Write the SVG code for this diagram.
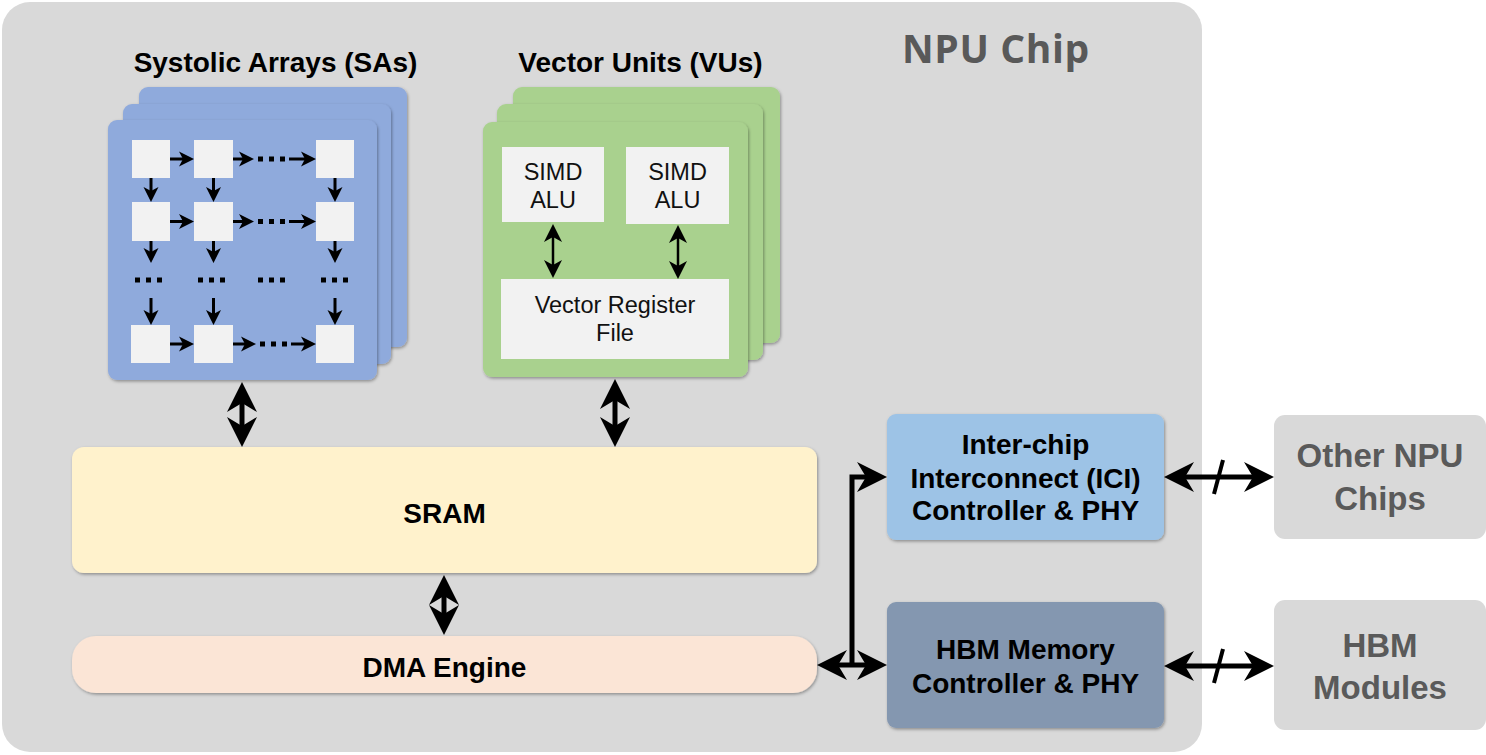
<svg xmlns="http://www.w3.org/2000/svg" width="1486" height="755" viewBox="0 0 1486 755">
<style>
.lbl{font-family:"Liberation Sans",Arial,sans-serif;font-weight:bold;font-size:28px;fill:#000;text-anchor:middle}
.reg{font-family:"Liberation Sans",Arial,sans-serif;font-size:23.5px;fill:#111;text-anchor:middle}
.ext{font-family:"Liberation Sans",Arial,sans-serif;font-weight:bold;font-size:33px;fill:#5a5a5a;text-anchor:middle}
.sa{fill:#8faadc}
.vu{fill:#a9d18e}
.pe{fill:#f2f2f2}
.sh{filter:url(#shadow)}
.a-sm{stroke:#000;stroke-width:3;fill:none;marker-end:url(#sm)}
.a-mid{stroke:#000;stroke-width:2.5;fill:none;marker-start:url(#mid);marker-end:url(#mid)}
.a-big{stroke:#000;stroke-width:5;fill:none}
.dots{stroke:#000;stroke-width:5;stroke-dasharray:5 6}
</style>
<defs>
<filter id="shadow" x="-10%" y="-10%" width="130%" height="130%">
<feDropShadow dx="1" dy="1.5" stdDeviation="1.5" flood-color="#000" flood-opacity="0.35"/>
</filter>
<marker id="sm" markerUnits="userSpaceOnUse" markerWidth="15" markerHeight="15" refX="6" refY="7.5" orient="auto" overflow="visible">
<path d="M0,0 L15,7.5 L0,15 L4,7.5 z" fill="#000"/>
</marker>
<marker id="mid" markerUnits="userSpaceOnUse" markerWidth="18" markerHeight="18" refX="7" refY="9" orient="auto-start-reverse" overflow="visible">
<path d="M0,0 L18,9 L0,18 L5,9 z" fill="#000"/>
</marker>
<marker id="big" markerUnits="userSpaceOnUse" markerWidth="30" markerHeight="30" refX="12" refY="15" orient="auto-start-reverse" overflow="visible">
<path d="M0,0 L30,15 L0,30 L9,15 z" fill="#000"/>
</marker>
</defs>

<g id="npu-chip">
<rect x="2" y="2" width="1200" height="750" rx="28" fill="#d9d9d9"/>
<text x="902" y="63" font-family="'Open Sans','Noto Sans',sans-serif" font-weight="bold" font-size="39" letter-spacing="0.6" fill="#595959">NPU Chip</text>
</g>

<g id="systolic-arrays">
<text class="lbl" x="275.5" y="72">Systolic Arrays (SAs)</text>
<rect class="sa sh" x="139" y="87" width="268" height="260" rx="9"/>
<rect class="sa sh" x="123" y="104" width="268" height="260" rx="9"/>
<rect class="sa sh" x="108" y="120" width="269" height="260" rx="9"/>
<g id="pe-grid">
<rect class="pe" x="132" y="140" width="38" height="38"/>
<rect class="pe" x="194" y="140" width="39" height="38"/>
<rect class="pe" x="316" y="140" width="38" height="38"/>
<rect class="pe" x="132" y="202" width="38" height="39"/>
<rect class="pe" x="194" y="202" width="39" height="39"/>
<rect class="pe" x="316" y="202" width="38" height="39"/>
<rect class="pe" x="131" y="325" width="39" height="38"/>
<rect class="pe" x="194" y="325" width="39" height="38"/>
<rect class="pe" x="316" y="325" width="38" height="38"/>
</g>
<g id="pe-links">
<line class="a-sm" x1="170" y1="159" x2="185" y2="159"/>
<line class="a-sm" x1="233" y1="159" x2="245" y2="159"/>
<line class="dots" x1="258" y1="159" x2="285" y2="159"/>
<line class="a-sm" x1="289" y1="159" x2="307" y2="159"/>
<line class="a-sm" x1="170" y1="221.5" x2="185" y2="221.5"/>
<line class="a-sm" x1="233" y1="221.5" x2="245" y2="221.5"/>
<line class="dots" x1="258" y1="221.5" x2="285" y2="221.5"/>
<line class="a-sm" x1="289" y1="221.5" x2="307" y2="221.5"/>
<line class="a-sm" x1="170" y1="344" x2="185" y2="344"/>
<line class="a-sm" x1="233" y1="344" x2="247" y2="344"/>
<line class="dots" x1="260" y1="344" x2="287" y2="344"/>
<line class="a-sm" x1="291" y1="344" x2="307" y2="344"/>
<line class="a-sm" x1="151" y1="178" x2="151" y2="193"/>
<line class="a-sm" x1="213.5" y1="178" x2="213.5" y2="193"/>
<line class="a-sm" x1="335" y1="178" x2="335" y2="193"/>
<line class="a-sm" x1="151" y1="241" x2="151" y2="254"/>
<line class="a-sm" x1="213.5" y1="241" x2="213.5" y2="254"/>
<line class="a-sm" x1="335" y1="241" x2="335" y2="254"/>
<line class="dots" x1="135" y1="280" x2="162" y2="280"/>
<line class="dots" x1="198" y1="280" x2="225" y2="280"/>
<line class="dots" x1="258" y1="280" x2="285" y2="280"/>
<line class="dots" x1="321" y1="280" x2="348" y2="280"/>
<line class="a-sm" x1="151" y1="298" x2="151" y2="316"/>
<line class="a-sm" x1="213.5" y1="298" x2="213.5" y2="316"/>
<line class="a-sm" x1="335" y1="298" x2="335" y2="316"/>
</g>
</g>

<g id="vector-units">
<text class="lbl" x="640.5" y="72">Vector Units (VUs)</text>
<rect class="vu sh" x="513" y="87" width="267" height="256" rx="9"/>
<rect class="vu sh" x="497" y="104" width="266" height="256" rx="9"/>
<rect class="vu sh" x="483" y="122" width="265" height="255" rx="9"/>
<g id="simd-alu-1">
<rect class="pe" x="502" y="147" width="102" height="75"/>
<text class="reg" x="553" y="180">SIMD</text>
<text class="reg" x="553" y="208">ALU</text>
</g>
<g id="simd-alu-2">
<rect class="pe" x="626" y="147" width="103" height="77"/>
<text class="reg" x="677.5" y="180">SIMD</text>
<text class="reg" x="677.5" y="208">ALU</text>
</g>
<g id="vector-register-file">
<rect class="pe" x="501" y="279" width="228" height="80"/>
<text class="reg" x="615" y="313">Vector Register</text>
<text class="reg" x="615" y="341">File</text>
</g>
<line class="a-mid" x1="553" y1="235" x2="553" y2="267"/>
<line class="a-mid" x1="678" y1="236" x2="678" y2="268"/>
</g>

<g id="sram">
<rect class="sh" x="72" y="447" width="745" height="126" rx="12" fill="#fff2cc"/>
<text class="lbl" x="444.5" y="523">SRAM</text>
</g>

<g id="dma-engine">
<rect class="sh" x="72" y="636" width="745" height="57" rx="24" fill="#fbe5d6"/>
<text class="lbl" x="444.5" y="677">DMA Engine</text>
</g>

<g id="ici">
<rect class="sh" x="887" y="414" width="277" height="126" rx="9" fill="#9dc3e6"/>
<text class="lbl" x="1025.5" y="454">Inter-chip</text>
<text class="lbl" x="1025.5" y="488">Interconnect (ICI)</text>
<text class="lbl" x="1025.5" y="520">Controller &amp; PHY</text>
</g>

<g id="hbm-controller">
<rect class="sh" x="887" y="602" width="277" height="126" rx="9" fill="#8497b0"/>
<text class="lbl" x="1025.5" y="659">HBM Memory</text>
<text class="lbl" x="1025.5" y="693">Controller &amp; PHY</text>
</g>

<g id="other-npu-chips">
<rect x="1274" y="415" width="212" height="124" rx="11" fill="#d9d9d9"/>
<text class="ext" x="1380" y="467">Other NPU</text>
<text class="ext" x="1380" y="510">Chips</text>
</g>

<g id="hbm-modules">
<rect x="1274" y="600" width="212" height="130" rx="11" fill="#d9d9d9"/>
<text class="ext" x="1380" y="657">HBM</text>
<text class="ext" x="1380" y="699">Modules</text>
</g>

<g id="connectors">
<line class="a-big" x1="242" y1="400" x2="242" y2="429" marker-start="url(#big)" marker-end="url(#big)"/>
<line class="a-big" x1="615" y1="397" x2="615" y2="429" marker-start="url(#big)" marker-end="url(#big)"/>
<line class="a-big" x1="444" y1="593" x2="444" y2="617" marker-start="url(#big)" marker-end="url(#big)"/>
<line class="a-big" x1="835" y1="665" x2="869" y2="665" marker-start="url(#big)" marker-end="url(#big)"/>
<path class="a-big" d="M852,667 L852,477 L869,477" marker-end="url(#big)"/>
<line class="a-big" x1="1182" y1="477" x2="1256" y2="477" marker-start="url(#big)" marker-end="url(#big)"/>
<line x1="1214" y1="494" x2="1223" y2="460" stroke="#000" stroke-width="4"/>
<line class="a-big" x1="1182" y1="666" x2="1256" y2="666" marker-start="url(#big)" marker-end="url(#big)"/>
<line x1="1214" y1="683" x2="1223" y2="649" stroke="#000" stroke-width="4"/>
</g>
</svg>
